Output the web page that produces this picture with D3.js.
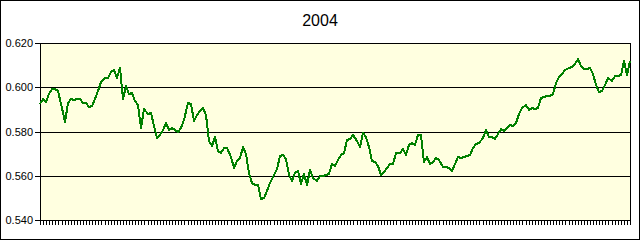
<!DOCTYPE html>
<html>
<head>
<meta charset="utf-8">
<script src="https://cdn.jsdelivr.net/npm/d3@7"></script>
<style>
body { margin: 0; background: #fff; }
svg { display: block; font-family: "Liberation Sans", Arial, sans-serif; }
</style>
</head>
<body>
<div id="chart"></div>
<script>
// chart data
var title = "2004";
var yTicks = [0.540, 0.560, 0.580, 0.600, 0.620];
var values = [
  0.5924, 0.5945, 0.5932, 0.5969, 0.5992, 0.5992, 0.5983, 0.5908, 0.5843, 0.5927,
  0.5945, 0.5942, 0.5945, 0.5947, 0.5927, 0.5927, 0.5911, 0.5915, 0.5947, 0.5981,
  0.6025, 0.6040, 0.6042, 0.6069, 0.6076, 0.6042, 0.6089, 0.5947, 0.6006, 0.5969,
  0.5972, 0.5940, 0.5920, 0.5816, 0.5902, 0.5877, 0.5884, 0.5825, 0.5771, 0.5782,
  0.5807, 0.5838, 0.5807, 0.5818, 0.5808, 0.5800, 0.5818, 0.5852, 0.5929, 0.5924,
  0.5847, 0.5875, 0.5894, 0.5904, 0.5875, 0.5757, 0.5734, 0.5775, 0.5712, 0.5705,
  0.5725, 0.5727, 0.5687, 0.5635, 0.5667, 0.5682, 0.5728, 0.5698, 0.5612, 0.5565,
  0.5560, 0.5558, 0.5495, 0.5499, 0.5531, 0.5567, 0.5603, 0.5630, 0.5689, 0.5694,
  0.5676, 0.5603, 0.5578, 0.5612, 0.5621, 0.5563, 0.5608, 0.5558, 0.5626, 0.5592,
  0.5576, 0.5599, 0.5597, 0.5603, 0.5610, 0.5651, 0.5644, 0.5669, 0.5694, 0.5703,
  0.5762, 0.5767, 0.5783, 0.5755, 0.5732, 0.5793, 0.5775, 0.5728, 0.5666, 0.5663,
  0.5645, 0.5605, 0.5617, 0.5633, 0.5651, 0.5653, 0.5701, 0.5703, 0.5721, 0.5696,
  0.5741, 0.5748, 0.5739, 0.5782, 0.5782, 0.5660, 0.5685, 0.5653, 0.5662, 0.5682,
  0.5671, 0.5640, 0.5638, 0.5637, 0.5621, 0.5651, 0.5685, 0.5680, 0.5683, 0.5689,
  0.5696, 0.5724, 0.5743, 0.5749, 0.5771, 0.5807, 0.5774, 0.5777, 0.5766, 0.5789,
  0.5811, 0.5802, 0.5818, 0.5828, 0.5825, 0.5838, 0.5877, 0.5906, 0.5920, 0.5899,
  0.5904, 0.5903, 0.5906, 0.5951, 0.5958, 0.5960, 0.5962, 0.5969, 0.6019, 0.6046,
  0.6058, 0.6078, 0.6086, 0.6090, 0.6104, 0.6129, 0.6094, 0.6082, 0.6083, 0.6085,
  0.6059, 0.6012, 0.5979, 0.5983, 0.6010, 0.6042, 0.6028, 0.6052, 0.6050, 0.6054,
  0.6119, 0.6055, 0.6119
];

var w = 640,
    h = 240;

var svg = d3.select("#chart").append("svg")
    .attr("width", w)
    .attr("height", h);

// outer frame
svg.append("rect")
    .attr("x", 0.5).attr("y", 0.5)
    .attr("width", w - 1).attr("height", h - 1)
    .attr("fill", "#fff")
    .attr("stroke", "#000");

// scales (rounded so the rules land on whole pixels)
var x = d3.scaleLinear().domain([0, values.length - 1]).rangeRound([40, 630]);
var y = d3.scaleLinear().domain([yTicks[0], yTicks[yTicks.length - 1]]).rangeRound([220, 43]);

// plot area
svg.append("rect")
    .attr("x", x(0) + 0.5)
    .attr("y", y(yTicks[yTicks.length - 1]) + 0.5)
    .attr("width", x(values.length - 1) - x(0))
    .attr("height", y(yTicks[0]) - y(yTicks[yTicks.length - 1]))
    .attr("fill", "#ffffe0")
    .attr("stroke", "#000");

// gridlines
svg.append("g").attr("class", "grid")
    .selectAll("line")
    .data(yTicks.slice(1, -1))
    .enter().append("line")
    .attr("x1", x(0) + 0.5)
    .attr("x2", x(values.length - 1) + 0.5)
    .attr("y1", function (d) { return y(d) + 0.5; })
    .attr("y2", function (d) { return y(d) + 0.5; })
    .attr("stroke", "#000");

// y axis
var yAxis = svg.append("g")
    .attr("transform", "translate(" + x(0) + ",0)")
    .call(d3.axisLeft(y)
        .tickValues(yTicks)
        .tickSize(5)
        .tickSizeOuter(0)
        .tickPadding(2)
        .tickFormat(d3.format(".3f")));
yAxis.attr("font-family", null).attr("font-size", 11);
yAxis.selectAll("text").attr("fill", "#000");

// x axis, one tick per day, no labels
svg.append("g")
    .attr("transform", "translate(0," + y(yTicks[0]) + ")")
    .call(d3.axisBottom(x)
        .tickValues(d3.range(values.length))
        .tickSize(5)
        .tickSizeOuter(0)
        .tickFormat(""));

// the line
var line = d3.line()
    .x(function (d, i) { return x(i); })
    .y(function (d) { return y(d); });

svg.append("path")
    .datum(values)
    .attr("d", line)
    .attr("fill", "none")
    .attr("stroke", "#008000")
    .attr("stroke-width", 2)
    .attr("stroke-linejoin", "round")
    .style("shape-rendering", "crispEdges");

// title
svg.append("text")
    .attr("x", w / 2)
    .attr("y", 26)
    .attr("text-anchor", "middle")
    .attr("font-size", 16)
    .attr("fill", "#000")
    .text(title);
</script>
</body>
</html>
